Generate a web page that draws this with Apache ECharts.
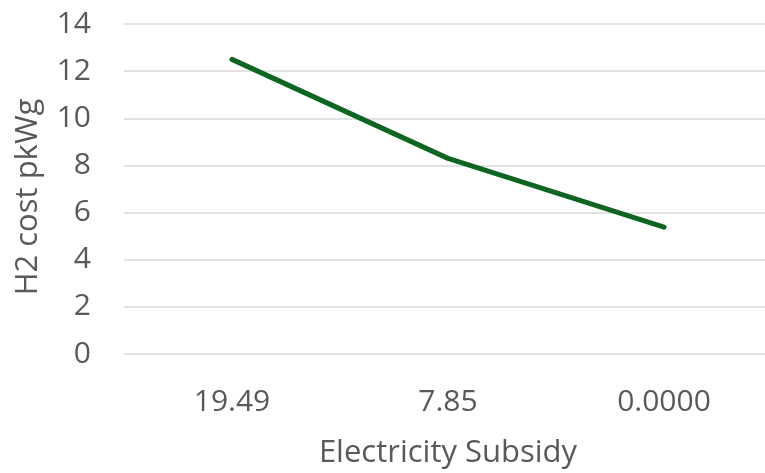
<!DOCTYPE html>
<html><head><meta charset="utf-8">
<script src="https://cdn.jsdelivr.net/npm/echarts@6/dist/echarts.min.js"></script>
<style>html,body{margin:0;padding:0;background:#fff}#c{width:765px;height:473px}</style>
</head><body><div id="c"></div>
<script>
var categories = ['19.49', '7.85', '0.0000'];
var h2Cost = [12.5, 8.3, 5.38];
var yTicks = {min: 0, max: 14, interval: 2};
var chart = echarts.init(document.getElementById('c'), null, {renderer: 'canvas'});
var font = '"Open Sans", sans-serif';
chart.setOption({
  animation: false,
  grid: {left: 124, right: -7, top: 24, bottom: 119, outerBoundsMode: 'none', containLabel: false},
  xAxis: {
    type: 'category', data: categories, boundaryGap: true,
    name: 'Electricity Subsidy', nameLocation: 'middle', nameGap: 84,
    nameTextStyle: {fontFamily: font, fontSize: 31, color: '#595959'},
    axisLine: {show: false}, axisTick: {show: false},
    axisLabel: {fontFamily: font, fontSize: 30, color: '#595959', margin: 33}
  },
  yAxis: {
    type: 'value', min: yTicks.min, max: yTicks.max, interval: yTicks.interval,
    name: 'H2 cost pkWg', nameLocation: 'middle', nameGap: 80, nameRotate: 90,
    nameTextStyle: {fontFamily: font, fontSize: 31, color: '#595959', padding: [0, 16, 0, 0]},
    axisLine: {show: false}, axisTick: {show: false},
    axisLabel: {fontFamily: font, fontSize: 30, color: '#595959', margin: 33},
    splitLine: {lineStyle: {color: '#d9d9d9', width: 1.5}}
  },
  series: [{
    type: 'line', data: h2Cost, symbol: 'none',
    lineStyle: {color: '#0E6421', width: 5, cap: 'round', join: 'round'}
  }]
});
</script></body></html>
